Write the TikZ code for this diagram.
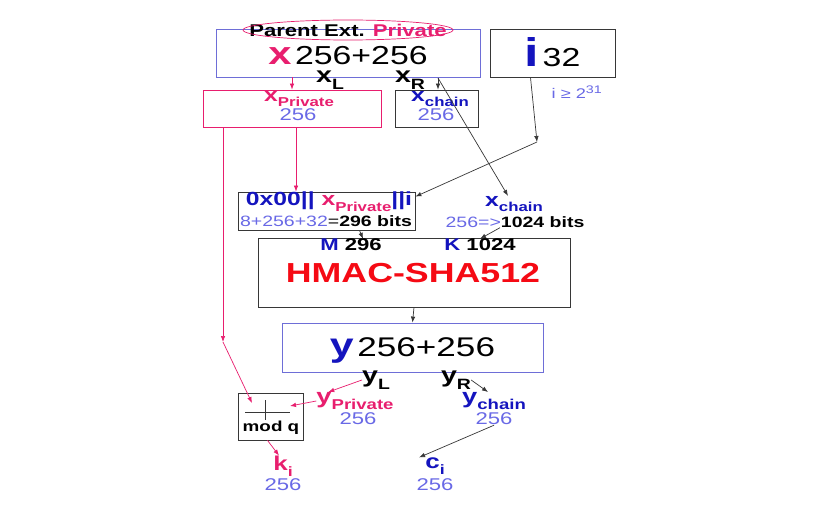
\documentclass[tikz,border=0pt]{standalone}
\usepackage{fontspec}
\setmainfont{Liberation Sans}[FakeStretch=1.3]
\usepackage{graphicx}
\usetikzlibrary{arrows.meta,positioning,calc}
\definecolor{PinkColor}{RGB}{232,30,110}
\definecolor{DeepBlue}{RGB}{20,20,190}
\definecolor{SoftBlue}{RGB}{105,105,230}
\definecolor{FrameBlue}{RGB}{110,110,215}
\definecolor{FrameGray}{RGB}{55,55,55}
\definecolor{HmacRed}{RGB}{245,10,20}
\newcommand{\lowsub}[1]{\raisebox{-0.3em}{\scalebox{0.68}{#1}}}
\newcommand{\fs}[1]{\fontsize{#1}{#1}\selectfont}

\begin{document}
\begin{tikzpicture}[x=1pt, y=-1pt, >={Latex[length=6pt,width=4.5pt]}, font=\bfseries,
    box/.style={draw, line width=0.8pt, inner sep=0pt},
    lbl/.style={inner sep=0pt, align=center},
    arr/.style={->, FrameGray, line width=0.7pt},
    parr/.style={->, PinkColor, line width=0.7pt}]
  \useasboundingbox[fill=white] (0,0) rectangle (822,505);
  % parent key
  \node[box, draw=FrameBlue, minimum width=264, minimum height=48, text height=24pt] (xbox) at (348,53) {{\color{PinkColor}\fs{32}x} {\fs{26}\mdseries 256+256}};
  \node[lbl] (parent) at (348,30) {\fs{17}Parent Ext. {\color{PinkColor}Private}};
  \draw[PinkColor, line width=0.7pt] (parent.center) ellipse [x radius=105, y radius=10];
  \node[lbl] (xl) at (330,80) {\fs{22}x\lowsub{L}};
  \node[lbl] (xr) at (410,80) {\fs{22}x\lowsub{R}};
  \node[box, draw=FrameGray, minimum width=125, minimum height=48, text height=28pt] (ibox) at (552.5,53) {{\color{DeepBlue}\fs{40}i} {\fs{26}\mdseries 32}};
  \node[lbl] (icond) at (577,92) {\color{SoftBlue}\fs{14}\mdseries i ≥ 2\textsuperscript{\fs{11}31}};
  % split halves
  \node[box, draw=PinkColor, minimum width=178, minimum height=37] (xpriv) at (292,108.5) {};
  \node[lbl] (xprivlbl) at (299,99) {\color{PinkColor}\fs{19}x\lowsub{Private}};
  \node[lbl] (xprivnum) at (298,115) {\color{SoftBlue}\fs{17}\mdseries 256};
  \node[box, draw=FrameGray, minimum width=83, minimum height=37] (xchbox) at (436.5,108.5) {};
  \node[lbl] (xchlbl) at (440,99) {\color{DeepBlue}\fs{19}x\lowsub{chain}};
  \node[lbl] (xchnum) at (436,115) {\color{SoftBlue}\fs{17}\mdseries 256};
  % hmac inputs
  \node[box, draw=FrameGray, minimum width=177, minimum height=38] (zbox) at (326.5,211) {};
  \node[lbl] (zlbl) at (329,202) {\fs{19}{\color{DeepBlue}0x00||} {\color{PinkColor}x\lowsub{Private}}{\color{DeepBlue}||i}};
  \node[lbl] (znum) at (326,221) {\fs{15}{\mdseries\color{SoftBlue}8+256+32}{\mdseries=}296 bits};
  \node[lbl] (kchlbl) at (514,204) {\color{DeepBlue}\fs{19}x\lowsub{chain}};
  \node[lbl] (knum) at (515,222) {\fs{15}{\mdseries\color{SoftBlue}256=>}1024 bits};
  \node[box, draw=FrameGray, minimum width=312, minimum height=69] (hmac) at (414,272.5) {};
  \node[lbl] (mlbl) at (351,245) {\fs{17}{\color{DeepBlue}M} 296};
  \node[lbl] (klbl) at (480,245) {\fs{17}{\color{DeepBlue}K} 1024};
  \node[lbl] (hmactxt) at (413,273) {\color{HmacRed}\fs{27.5}HMAC-SHA512};
  % child key
  \node[box, draw=FrameBlue, minimum width=261, minimum height=49, text height=25pt] (ybox) at (412.5,347.5) {{\color{DeepBlue}\fs{33}y} {\fs{27}\mdseries 256+256}};
  \node[lbl] (yl) at (376,380) {\fs{22}y\lowsub{L}};
  \node[lbl] (yr) at (456,380) {\fs{22}y\lowsub{R}};
  \node[lbl] (ypriv) at (355,401) {\color{PinkColor}\fs{21}y\lowsub{Private}};
  \node[lbl] (yprivnum) at (358,419) {\color{SoftBlue}\fs{17}\mdseries 256};
  \node[lbl] (ych) at (494,401) {\color{DeepBlue}\fs{21}y\lowsub{chain}};
  \node[lbl] (ychnum) at (494,419) {\color{SoftBlue}\fs{17}\mdseries 256};
  \node[box, draw=FrameGray, minimum width=65, minimum height=47] (modbox) at (270.5,416.5) {};
  \node[lbl] (modtxt) at (271,428) {\fs{14.5}mod q};
  \draw[FrameGray, line width=0.7pt] (245,412) -- (290,412) (265,400) -- (265,420);
  \node[lbl] (kidx) at (283,466) {\color{PinkColor}\fs{20}k\lowsub{i}};
  \node[lbl] (kidxnum) at (283,485) {\color{SoftBlue}\fs{17}\mdseries 256};
  \node[lbl] (cidx) at (435,466) {\color{DeepBlue}\fs{20}c\lowsub{i}};
  \node[lbl] (cidxnum) at (435,485) {\color{SoftBlue}\fs{17}\mdseries 256};
  % connectors
  \coordinate (xrtap) at (438,78);
  \coordinate (ibend) at (537,142);
  \coordinate (ztop) at ([xshift=-30.5pt]zbox.north);
  \coordinate (pbend) at (223,342);
  \coordinate (modin) at (252,403);
  \coordinate (modside) at (290,406);
  \draw[parr] (xbox.south -| xpriv.north) -- (xpriv.north);
  \draw[arr] (xrtap) -- (xrtap |- xchbox.north);
  \draw[arr] (xrtap) -- ([xshift=-6pt]kchlbl.north);
  \draw[arr] ([xshift=-22pt]ibox.south) -- (ibend);
  \draw[arr] (ibend) -- ([yshift=-5pt]zbox.north east);
  \draw[parr] (xpriv.south -| ztop) -- (ztop);
  \draw[parr] (xpriv.south -| pbend) -- (pbend);
  \draw[parr] (pbend) -- (modin);
  \draw[arr] ([xshift=33pt]zbox.south) -- ([xshift=12pt]mlbl.north);
  \draw[arr] ([xshift=-15pt]knum.south) -- (klbl.north);
  \draw[arr] (hmac.south) -- (ybox.north);
  \draw[parr] (yl.west) -- ([xshift=12pt]ypriv.north west);
  \draw[arr] (yr.east) -- ([xshift=-6pt]ych.north);
  \draw[parr] (ypriv.west) -- (modside);
  \draw[arr] (ychnum.south) -- ([xshift=-6pt]cidx.north west);
  \draw[parr] ([xshift=-3pt]modbox.south) -- ([xshift=-4pt]kidx.north);
\end{tikzpicture}
\end{document}
